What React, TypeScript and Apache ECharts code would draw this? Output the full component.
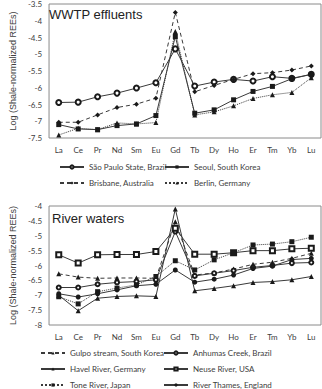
import React, { useEffect, useRef } from "react";
import * as echarts from "echarts";

const categories = ["La", "Ce", "Pr", "Nd", "Sm", "Eu", "Gd", "Tb", "Dy", "Ho", "Er", "Tm", "Yb", "Lu"];

// Top panel: WWTP effluents
const saoPaulo = [-6.44, -6.43, -6.27, -6.16, -6.01, -5.85, -4.84, -5.95, -5.83, -5.75, -5.8, -5.67, -5.72, -5.6];
const seoul = [-7.1, -7.23, -7.25, -7.13, -7.08, -6.83, -4.47, -6.76, -6.66, -6.36, -6.11, -5.96, -5.73, -5.6];
const brisbane = [-7.03, -7.03, -6.81, -6.59, -6.49, -6.31, -3.75, -6.12, -5.93, -5.75, -5.58, -5.55, -5.47, -5.35];
const berlin = [-7.41, -7.21, -7.25, -7.05, -7.08, -7.04, -4.32, -6.81, -6.72, -6.54, -6.32, -6.21, -6.14, -5.7];

// Bottom panel: River waters
const gulpo = [-6.28, -6.39, -6.43, -6.42, -6.42, -6.43, -4.53, -6.32, -6.25, -6.12, -5.96, -5.89, -5.76, -5.59];
const anhumas = [-6.74, -6.74, -6.63, -6.57, -6.54, -6.48, -4.86, -6.35, -6.26, -6.17, -6.06, -6.0, -5.92, -5.9];
const havel = [-7.0, -7.52, -7.1, -7.04, -7.02, -7.04, -4.1, -6.85, -6.77, -6.68, -6.57, -6.54, -6.48, -6.37];
const neuse = [-5.64, -5.92, -5.64, -5.63, -5.63, -5.53, -4.75, -5.62, -5.62, -5.57, -5.5, -5.5, -5.44, -5.42];
const tone = [-7.05, -7.29, -6.88, -6.76, -6.65, -6.37, -5.84, -6.15, -5.81, -5.57, -5.31, -5.28, -5.2, -5.05];
const thames = [-6.95, -7.06, -6.95, -6.82, -6.68, -6.63, -6.15, -6.56, -6.46, -6.32, -6.1, -6.02, -5.8, -5.76];

const topTitle = "WWTP effluents";
const bottomTitle = "River waters";
const yName = "Log (Shale-normalized REEs)";

const FONT = "'Liberation Sans', Arial, sans-serif";
const LFONT = "Lato, 'Liberation Sans', sans-serif";
const LINE = "#3a3a3a";
const TEXT = "#404040";

function mk(name: string, data: number[], symbol: string, lineType: any, grid: number, size = 5) {
  return {
    type: "line",
    name,
    data,
    xAxisIndex: grid,
    yAxisIndex: grid,
    symbol,
    symbolSize: size,
    showSymbol: true,
    lineStyle: { color: LINE, width: 1, type: lineType },
    itemStyle: { color: "#1a1a1a", borderWidth: 1 },
    emphasis: { disabled: true },
  };
}

export default function App() {
  const ref = useRef<HTMLDivElement>(null);
  useEffect(() => {
    document.body.style.margin = "0";
    const chart = echarts.init(ref.current!, undefined, { renderer: "svg" });
    const legendText = { fontSize: 8, color: TEXT, fontFamily: LFONT, lineHeight: 10 };
    const legendBase = {
      orient: "vertical",
      itemWidth: 24,
      itemHeight: 4,
      itemGap: 6,
      height: 80,
      textStyle: legendText,
      itemStyle: { borderWidth: 0 },
      selectedMode: false,
      padding: 0,
    };
    const xAxisBase = (gridIndex: number) => ({
      type: "category",
      gridIndex,
      data: categories,
      boundaryGap: true,
      axisTick: { show: false },
      axisLine: { show: false },
      axisLabel: { fontSize: 8, color: TEXT, fontFamily: LFONT, margin: 8, interval: 0 },
      splitLine: { show: false },
    });
    const yAxisBase = (gridIndex: number, min: number, max: number) => ({
      type: "value",
      gridIndex,
      min,
      max,
      interval: 0.5,
      name: yName,
      nameLocation: "middle",
      nameGap: 31,
      nameTextStyle: { fontSize: 9, color: TEXT, fontFamily: FONT },
      axisTick: { show: false },
      axisLine: { show: false },
      splitLine: { show: false },
      axisLabel: { fontSize: 8, color: TEXT, fontFamily: LFONT, margin: 7 },
    });
    chart.setOption({
      animation: false,
      backgroundColor: "#ffffff",
      grid: [
        { left: 40, top: 4, width: 281, height: 134, show: true, borderColor: "#8a8a8a", borderWidth: 1, backgroundColor: "transparent" },
        { left: 40, top: 206, width: 281, height: 119, show: true, borderColor: "#8a8a8a", borderWidth: 1, backgroundColor: "transparent" },
      ],
      xAxis: [xAxisBase(0), xAxisBase(1)],
      yAxis: [yAxisBase(0, -7.5, -3.5), yAxisBase(1, -8, -4)],
      title: [
        { text: topTitle, left: 49, top: 8, padding: 0, textStyle: { fontSize: 13, fontWeight: "normal", color: "#222", fontFamily: FONT } },
        { text: bottomTitle, left: 52, top: 212, padding: 0, textStyle: { fontSize: 13, fontWeight: "normal", color: "#222", fontFamily: FONT } },
      ],
      legend: [
        { ...legendBase, left: 59, top: 162, data: ["São Paulo State, Brazil", "Brisbane, Australia"] },
        { ...legendBase, left: 164, top: 162, data: ["Seoul, South Korea", "Berlin, Germany"] },
        { ...legendBase, left: 40, top: 348, data: ["Gulpo stream, South Korea", "Havel River, Germany", "Tone River, Japan"] },
        { ...legendBase, left: 163, top: 348, data: ["Anhumas Creek, Brazil", "Neuse River, USA", "River Thames, England"] },
      ],
      series: [
        mk("São Paulo State, Brazil", saoPaulo, "emptyCircle", "solid", 0, 5),
        mk("Seoul, South Korea", seoul, "rect", "solid", 0, 5),
        mk("Brisbane, Australia", brisbane, "diamond", [4, 3], 0, 5),
        mk("Berlin, Germany", berlin, "triangle", "dotted", 0, 5),
        mk("Gulpo stream, South Korea", gulpo, "triangle", [4, 3], 1, 5),
        mk("Anhumas Creek, Brazil", anhumas, "emptyCircle", "solid", 1, 4),
        mk("Havel River, Germany", havel, "triangle", "solid", 1, 5),
        mk("Neuse River, USA", neuse, "emptyRect", "solid", 1, 5),
        mk("Tone River, Japan", tone, "rect", "dotted", 1, 5),
        mk("River Thames, England", thames, "circle", "solid", 1, 5),
      ],
    } as any);
    return () => chart.dispose();
  }, []);
  return <div ref={ref} style={{ position: "absolute", left: 0, top: 0, width: 322, height: 389 }} />;
}
